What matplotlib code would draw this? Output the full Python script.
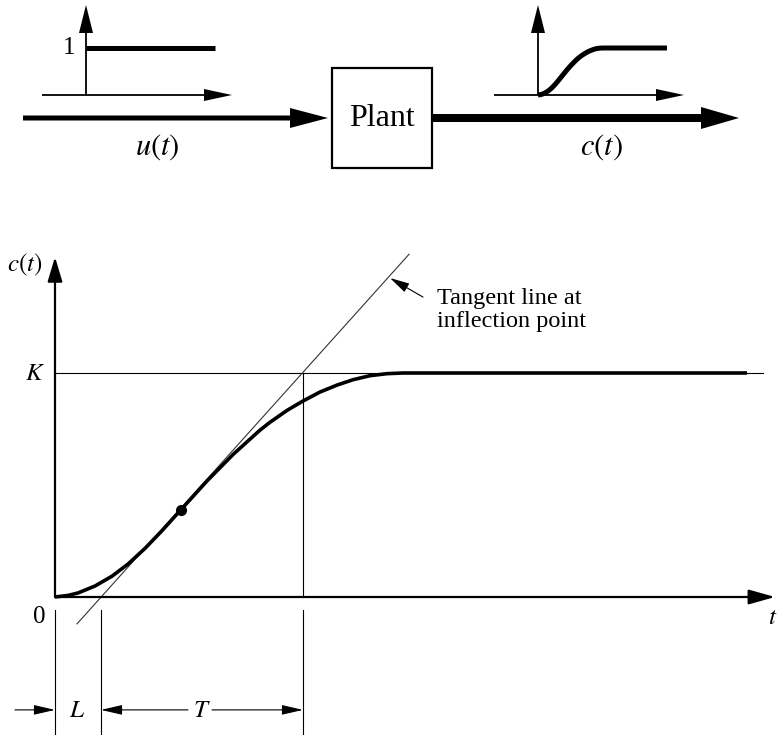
import numpy as np
import matplotlib
matplotlib.use('Agg')
import matplotlib.pyplot as plt
from matplotlib.patches import FancyArrowPatch, Rectangle

# step response (t in arbitrary units, c in units of K)
curve_t = [0, 0.26, 0.46, 0.80, 1.14, 1.46, 1.80, 2.14, 2.52, 3.04, 3.56, 4.10,
           4.30, 4.64, 4.96, 5.30, 5.64, 5.96, 6.30, 6.64, 6.96, 13.84]
curve_c = [0, 0.007, 0.018, 0.049, 0.093, 0.147, 0.217, 0.296, 0.390, 0.518, 0.636, 0.745,
           0.780, 0.833, 0.875, 0.915, 0.946, 0.970, 0.988, 0.997, 1.0, 1.0]
K = 1.0
L = 0.92
T = 4.04
inflect_t, inflect_c = 2.52, 0.39
tangent_t = [0.44, 7.08]
tangent_c = [-0.12, 1.53]

plt.rcParams['mathtext.fontset'] = 'stix'
serif = 'Liberation Serif'

fig = plt.figure(figsize=(7.84, 7.35), dpi=100)

# block diagram on top, in pixel units
ax = fig.add_axes([0, 0, 1, 1])
ax.set_xlim(0, 784)
ax.set_ylim(735, 0)
ax.axis('off')

# response plot, in (t, c) units
x0, y0, px_t, px_c = 55, 597, 50, 224
axm = fig.add_axes([0, 0, 1, 1])
axm.set_xlim(-x0 / px_t, (784 - x0) / px_t)
axm.set_ylim((y0 - 735) / px_c, y0 / px_c)
axm.set_facecolor('none')
axm.axis('off')


def arrow(a, p0, p1, lw, hl, hw, color='k'):
    a.add_patch(FancyArrowPatch(p0, p1, arrowstyle=f'-|>,head_length={hl},head_width={hw}',
                                mutation_scale=1, lw=lw, color=color,
                                shrinkA=0, shrinkB=0, zorder=3))


def block_arrow(x, y, dx, dy, w, hw, hl):
    ax.arrow(x, y, dx, dy, width=w, head_width=hw, head_length=hl,
             length_includes_head=True, fc='k', ec='none')


# --- top: u(t) -> Plant -> c(t)
block_arrow(23, 118, 305, 0, 5, 20, 38)
block_arrow(432, 118, 307, 0, 8, 22, 38)
ax.add_patch(Rectangle((332, 68), 100, 100, fill=False, lw=1.6, ec='k'))
ax.text(382, 118, 'Plant', family=serif, fontsize=23, ha='center', va='center')
ax.text(157, 147, r'$u(t)$', fontsize=22, ha='center', va='center')
ax.text(601, 147, r'$c(t)$', fontsize=22, ha='center', va='center')

# step input sketch
block_arrow(42, 95, 190, 0, 1.8, 12, 28)
block_arrow(86, 95, 0, -90, 1.8, 14, 28)
ax.plot([86, 215], [48, 48], color='k', lw=3.6, solid_capstyle='butt')
ax.text(69, 48, '1', family=serif, fontsize=18, ha='center', va='center')

# output sketch (same curve, shrunk)
block_arrow(494, 95, 190, 0, 1.8, 12, 28)
block_arrow(538, 95, 0, -90, 1.8, 14, 28)
mini_x = 538 + np.array(curve_t) / curve_t[-1] * 129
mini_y = 95 - np.array(curve_c) * 47
ax.plot(mini_x, mini_y, color='k', lw=3.6, solid_capstyle='butt', solid_joinstyle='round')

# --- response plot
arrow(axm, (0, 0), (0, 1.518), 1.6, 15, 4.5)
arrow(axm, (0, 0), (14.4, 0), 1.6, 16, 4.5)
axm.plot([0, 14.16], [K, K], color='k', lw=0.8)
axm.plot([L + T, L + T], [0, K], color='k', lw=0.8)
axm.plot(tangent_t, tangent_c, color='#333333', lw=0.8, zorder=2)
axm.plot(curve_t, curve_c, color='k', lw=2.6, solid_capstyle='butt',
         solid_joinstyle='round', zorder=4)
axm.plot(inflect_t, inflect_c, 'o', color='k', ms=7, zorder=5)

# L and T dimensions
for tv in (0, L, L + T):
    axm.plot([tv, tv], [-0.058, -0.616], color='k', lw=0.8)
dim_c = -0.504
arrow(axm, (-0.8, dim_c), (0, dim_c), 0.8, 13, 3)
arrow(axm, (2.66, dim_c), (L, dim_c), 0.8, 13, 3)
arrow(axm, (3.14, dim_c), (L + T, dim_c), 0.8, 13, 3)

# tangent pointer
arrow(axm, (7.36, 1.339), (6.7, 1.424), 0.8, 12, 3)
axm.text(7.64, 1.281, 'Tangent line at\ninflection point', family=serif, fontsize=17.5,
         ha='left', va='center', linespacing=1.1)

axm.text(-0.6, 1.482, r'$c(t)$', fontsize=18, ha='center', va='center')
axm.text(-0.4, K, r'$K$', fontsize=18, ha='center', va='center')
axm.text(-0.32, -0.089, '0', family=serif, fontsize=18, ha='center', va='center')
axm.text(14.36, -0.089, r'$t$', fontsize=18, ha='center', va='center')
axm.text(0.44, dim_c, r'$L$', fontsize=18, ha='center', va='center')
axm.text(2.94, dim_c, r'$T$', fontsize=18, ha='center', va='center')

fig.savefig('out.png', dpi=100)
